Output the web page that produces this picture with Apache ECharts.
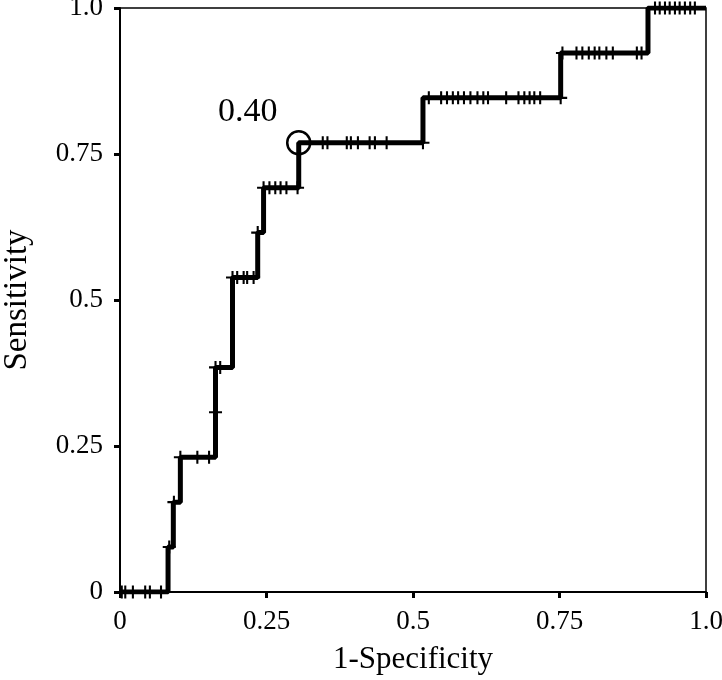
<!DOCTYPE html>
<html>
<head>
<meta charset="utf-8">
<script src="https://cdn.jsdelivr.net/npm/echarts@6/dist/echarts.min.js"></script>
<style>
  html, body { margin: 0; padding: 0; background: #fff; }
  #chart { width: 722px; height: 680px; }
</style>
</head>
<body>
<div id="chart"></div>
<script>
// ROC curve, 13 positives -> sensitivity = TP / 13
const nPos = 13;
const stepFpr = [0.082, 0.091, 0.103, 0.163, 0.192, 0.235, 0.245, 0.305, 0.517, 0.752, 0.901];
const stepTp = [0, 1, 2, 3, 5, 7, 8, 9, 10, 11, 12, 13];

// threshold markers ("+"), fpr and TP count
const markerFpr = [
  0.003, 0.009, 0.022, 0.043, 0.051, 0.070,
  0.084, 0.092,
  0.103, 0.132, 0.152, 0.163,
  0.163, 0.171,
  0.192, 0.200, 0.211, 0.217, 0.228,
  0.235,
  0.245, 0.255, 0.265, 0.274, 0.284, 0.303,
  0.346, 0.354, 0.387, 0.394, 0.406, 0.426, 0.435, 0.455, 0.517,
  0.527, 0.548, 0.558, 0.568, 0.577, 0.587, 0.598, 0.610, 0.620, 0.628, 0.659, 0.680, 0.690, 0.699, 0.707, 0.717, 0.752,
  0.755, 0.779, 0.789, 0.800, 0.810, 0.818, 0.830, 0.841, 0.882, 0.890,
  0.913, 0.921, 0.930, 0.938, 0.947, 0.955, 0.964, 0.973, 0.981
];
const markerTp = [
  0, 0, 0, 0, 0, 0,
  1, 2,
  3, 3, 3, 4,
  5, 5,
  7, 7, 7, 7, 7,
  8,
  9, 9, 9, 9, 9, 9,
  10, 10, 10, 10, 10, 10, 10, 10, 10,
  11, 11, 11, 11, 11, 11, 11, 11, 11, 11, 11, 11, 11, 11, 11, 11, 11,
  12, 12, 12, 12, 12, 12, 12, 12, 12, 12,
  13, 13, 13, 13, 13, 13, 13, 13, 13
];

// optimal cut-off
const cutFpr = 0.305;
const cutTp = 10;
const cutLabel = '0.40';

const ticks = [0, 0.25, 0.5, 0.75, 1];
const tickText = ['0', '0.25', '0.5', '0.75', '1.0'];

const curve = [[0, stepTp[0] / nPos]];
stepFpr.forEach((x, i) => {
  curve.push([x, stepTp[i] / nPos]);
  curve.push([x, stepTp[i + 1] / nPos]);
});
curve.push([1, stepTp[stepTp.length - 1] / nPos]);

const markers = markerFpr.map((x, i) => [x, markerTp[i] / nPos]);

const font = 'Liberation Serif';
const fmt = v => {
  const i = ticks.indexOf(v);
  return i >= 0 ? tickText[i] : '';
};

const axisCommon = {
  type: 'value',
  min: 0,
  max: 1,
  interval: 0.25,
  nameLocation: 'middle',
  axisLine: { show: true, lineStyle: { color: '#000', width: 2 } },
  axisTick: { show: true, inside: false, length: 6, lineStyle: { color: '#000', width: 3 } },
  splitLine: { show: false }
};

const chart = echarts.init(document.getElementById('chart'));
chart.setOption({
  animation: false,
  backgroundColor: '#fff',
  grid: {
    left: 120, right: 16, top: 8, bottom: 88,
    outerBoundsMode: 'none',
    containLabel: false,
    show: true, borderColor: '#000', borderWidth: 1.5
  },
  xAxis: Object.assign({}, axisCommon, {
    name: '1-Specificity',
    nameGap: 52,
    nameTextStyle: { fontFamily: font, fontSize: 31, color: '#000' },
    axisLabel: { fontFamily: font, fontSize: 27, color: '#000', formatter: fmt, margin: 16 }
  }),
  yAxis: Object.assign({}, axisCommon, {
    name: 'Sensitivity',
    nameGap: 86,
    nameTextStyle: { fontFamily: font, fontSize: 33, color: '#000' },
    axisLabel: { fontFamily: font, fontSize: 27, color: '#000', formatter: fmt, margin: 17 }
  }),
  series: [
    {
      type: 'line',
      data: curve,
      showSymbol: false,
      lineStyle: { color: '#000', width: 5 },
      z: 2
    },
    {
      type: 'scatter',
      data: markers,
      symbol: 'path://M4.2,0H5.8V4.2H10V5.8H5.8V10H4.2V5.8H0V4.2H4.2Z',
      symbolSize: 13,
      itemStyle: { color: '#000', opacity: 1 },
      z: 3
    },
    {
      type: 'scatter',
      data: [[cutFpr, cutTp / nPos]],
      symbol: 'circle',
      symbolSize: 23,
      itemStyle: { color: 'rgba(0,0,0,0)', borderColor: '#000', borderWidth: 2.5, opacity: 1 },
      label: {
        show: true,
        formatter: cutLabel,
        position: 'inside',
        offset: [-51, -31],
        fontFamily: font,
        fontSize: 34,
        color: '#000'
      },
      z: 4
    }
  ]
});
</script>
</body>
</html>
